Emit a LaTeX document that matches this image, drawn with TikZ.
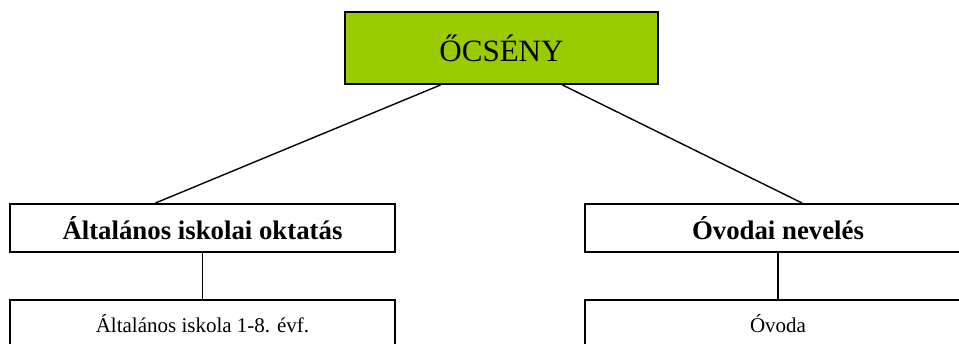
\documentclass[tikz,border=0pt]{standalone}
\usepackage{fontspec}
\setmainfont{Liberation Serif}
\definecolor{topgreen}{HTML}{99CC00}
\begin{document}
\begin{tikzpicture}[x=1pt,y=-1pt,
  box/.style={draw=black,line width=2pt,fill=white,inner sep=0pt,anchor=center},
  conn/.style={draw=black,line width=1.4pt}]
\useasboundingbox (0,0) rectangle (959,344);
\clip (0,0) rectangle (959,344);
\node[box,fill=topgreen,minimum width=313pt,minimum height=72pt,font=\fontsize{31}{36}\selectfont] (top) at (501.5,48) {ŐCSÉNY};
\node[box,minimum width=385pt,minimum height=48pt,font=\fontsize{26.8}{30}\selectfont\bfseries] (la) at (202.5,228) {Általános iskolai oktatás};
\node[box,minimum width=386pt,minimum height=48pt,font=\fontsize{26.8}{30}\selectfont\bfseries] (ra) at (778,228) {Óvodai nevelés};
\node[box,minimum width=385pt,minimum height=48pt,font=\fontsize{21}{25}\selectfont] (lb) at (202.5,324) {Általános iskola 1-8. évf.};
\node[box,minimum width=386pt,minimum height=48pt,font=\fontsize{21}{25}\selectfont] (rb) at (778,324) {Óvoda};
\draw[conn] ([xshift=-61pt]top.south) -- ([xshift=-47pt]la.north);
\draw[conn] ([xshift=61pt]top.south) -- ([xshift=24pt]ra.north);
\draw[conn] (la.south) -- (lb.north);
\draw[conn] (ra.south) -- (rb.north);
\end{tikzpicture}
\end{document}
